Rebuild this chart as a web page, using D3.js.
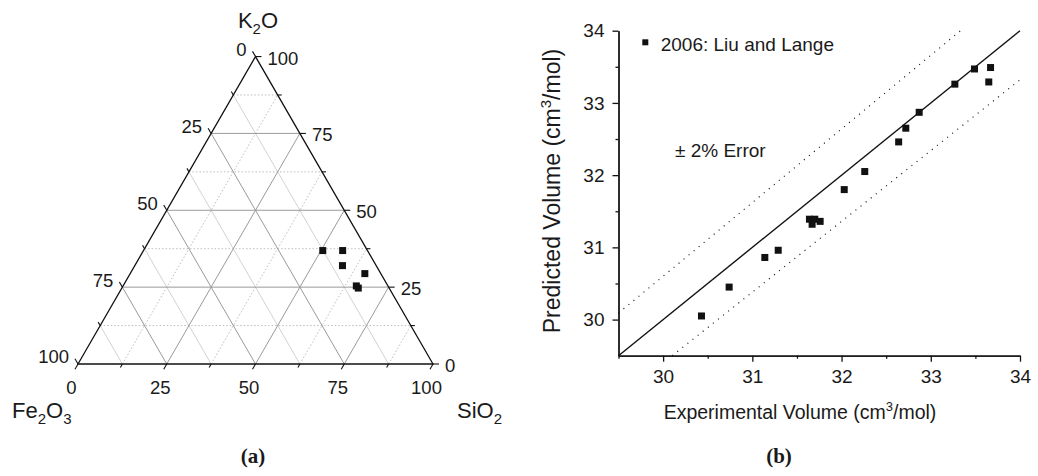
<!DOCTYPE html>
<html>
<head>
<meta charset="utf-8">
<script src="https://cdn.jsdelivr.net/npm/d3@7"></script>
<style>
body { margin: 0; background: #fff; }
svg text { font-family: "Liberation Sans", Arial, Helvetica, sans-serif; fill: #1a1a1a; }
</style>
</head>
<body>
<svg id="chart" width="1038" height="476"></svg>
<script>
// (a) ternary compositions, one entry per sample
var fe2o3 = [12.6, 7.0, 9.5, 4.5, 8.9, 8.7];
var sio2  = [50.5, 56.1, 58.5, 66.1, 65.7, 66.6];
var k2o   = [36.9, 36.9, 32.0, 29.4, 25.4, 24.7];
var ternMajor = [0, 25, 50, 75, 100];
var ternMinor = [12.5, 37.5, 62.5, 87.5];

// (b) experimental vs predicted volume, cm3/mol
var expVol  = [30.43, 30.74, 31.14, 31.29, 31.64, 31.70, 31.67, 31.76, 32.03, 32.26, 32.64, 32.72, 32.87, 33.27, 33.49, 33.67, 33.65];
var predVol = [30.05, 30.45, 30.86, 30.96, 31.39, 31.39, 31.32, 31.36, 31.80, 32.05, 32.46, 32.65, 32.87, 33.26, 33.47, 33.49, 33.29];
var volTicks = [30, 31, 32, 33, 34];
var volMinor = [29.5, 30.5, 31.5, 32.5, 33.5];
var errPct = 2;
var legendLabel = "2006: Liu and Lange";

var svg = d3.select("#chart");

// ---------- ternary ----------
var tA = [78, 364], side = 355, tH = side * Math.sqrt(3) / 2;
var tern = d3.scaleLinear().domain([0, 100]).range([0, 1]);

function tp(fe, si, k) {   // fe is implied by si + k
  var s = tern(si), kk = tern(k);
  return [tA[0] + side * (s + kk / 2), tA[1] - tH * kk];
}

var tg = svg.append("g");
var gridLine = function(p, q, cls) {
  var ln = tg.append("line")
    .attr("x1", p[0]).attr("y1", p[1]).attr("x2", q[0]).attr("y2", q[1])
    .attr("stroke-width", 1);
  if (cls == "major") ln.attr("stroke", "#9a9a9a");
  else if (cls == "minorSolid") ln.attr("stroke", "#d2d2d2");
  else ln.attr("stroke", "#bdbdbd").attr("stroke-dasharray", "1.5,2");
};

ternMinor.concat(ternMajor.slice(1, 4)).forEach(function(v) {
  var major = ternMajor.indexOf(v) != -1;
  gridLine(tp(100 - v, 0, v), tp(0, 100 - v, v), major ? "major" : "dotted");      // constant K2O
  gridLine(tp(v, 100 - v, 0), tp(v, 0, 100 - v), major ? "major" : "minorSolid");  // constant Fe2O3
  gridLine(tp(100 - v, v, 0), tp(0, v, 100 - v), major ? "major" : "dotted");      // constant SiO2
});

var corners = [tp(100, 0, 0), tp(0, 100, 0), tp(0, 0, 100)];
tg.append("path")
  .attr("d", "M" + corners.join("L") + "Z")
  .attr("fill", "none").attr("stroke", "#111").attr("stroke-width", 1.3);

// ticks
var all = ternMajor.concat(ternMinor);
all.forEach(function(v) {
  var len = ternMajor.indexOf(v) != -1 ? 6 : 4;
  var sides = [
    [tp(v, 0, 100 - v), [-0.5, -0.866]],   // left, Fe2O3
    [tp(0, 100 - v, v), [1, 0]],           // right, K2O
    [tp(100 - v, v, 0), [-0.5, 0.866]]     // bottom, SiO2
  ];
  sides.forEach(function(s) {
    tg.append("line")
      .attr("x1", s[0][0]).attr("y1", s[0][1])
      .attr("x2", s[0][0] + s[1][0] * len).attr("y2", s[0][1] + s[1][1] * len)
      .attr("stroke", "#111").attr("stroke-width", 1.1);
  });
});

ternMajor.forEach(function(v) {
  var p = tp(v, 0, 100 - v);
  tg.append("text").attr("x", p[0] - 9).attr("y", p[1] - 7).attr("dy", "0.35em")
    .attr("text-anchor", "end").attr("font-size", 18.5).text(v);
  p = tp(0, 100 - v, v);
  tg.append("text").attr("x", p[0] + 12).attr("y", p[1] + 1.5).attr("dy", "0.35em")
    .attr("font-size", 18.5).text(v);
  p = tp(100 - v, v, 0);
  tg.append("text").attr("x", p[0] - 6.5).attr("y", p[1] + 30)
    .attr("text-anchor", "middle").attr("font-size", 18.5).text(v);
});

function chemLabel(x, y, parts, anchor) {
  var t = svg.append("text").attr("x", x).attr("y", y).attr("font-size", 22)
    .attr("text-anchor", anchor || "start");
  parts.forEach(function(pt) {
    if (pt.sub) t.append("tspan").attr("font-size", 15).attr("dy", 6).text(pt.sub);
    else t.append("tspan").attr("dy", pt.up ? -6 : 0).text(pt.s);
  });
}
chemLabel(258, 28, [{s: "K"}, {sub: "2"}, {s: "O", up: true}], "middle");
chemLabel(12, 418, [{s: "Fe"}, {sub: "2"}, {s: "O", up: true}, {sub: "3"}]);
chemLabel(457, 418, [{s: "SiO"}, {sub: "2"}]);

tg.selectAll(".tpt")
  .data(d3.range(sio2.length))
  .enter().append("rect")
  .attr("class", "tpt")
  .attr("width", 7).attr("height", 7)
  .attr("x", function(i) { return tp(fe2o3[i], sio2[i], k2o[i])[0] - 3.5; })
  .attr("y", function(i) { return tp(fe2o3[i], sio2[i], k2o[i])[1] - 3.5; })
  .attr("fill", "#111");

// ---------- volume comparison ----------
var x = d3.scaleLinear().domain([29.5, 34]).range([618.5, 1020]);
var y = d3.scaleLinear().domain([29.5, 34]).range([355.7, 30.7]);
var vg = svg.append("g");

function styleAxis(g) {
  g.attr("font-family", null).attr("font-size", null);
  g.selectAll("text").attr("font-size", 19).attr("fill", "#1a1a1a");
  g.selectAll("line,path").attr("stroke", "#111").attr("stroke-width", 1.3);
}

vg.append("g").attr("transform", "translate(0," + y.range()[0] + ")")
  .call(d3.axisBottom(x).tickValues(volMinor).tickSize(3).tickSizeOuter(0).tickFormat(""))
  .call(styleAxis);
vg.append("g").attr("transform", "translate(0," + y.range()[0] + ")")
  .call(d3.axisBottom(x).tickValues(volTicks).tickSize(6).tickSizeOuter(0).tickPadding(8).tickFormat(d3.format("d")))
  .call(styleAxis);
vg.append("g").attr("transform", "translate(" + x.range()[0] + ",0)")
  .call(d3.axisLeft(y).tickValues(volMinor.slice(1)).tickSize(3).tickSizeOuter(0).tickFormat(""))
  .call(styleAxis);
vg.append("g").attr("transform", "translate(" + x.range()[0] + ",0)")
  .call(d3.axisLeft(y).tickValues(volTicks).tickSize(6).tickSizeOuter(0).tickPadding(8).tickFormat(d3.format("d")))
  .call(styleAxis);

var lo = x.domain()[0], hi = x.domain()[1];
var f = 1 + errPct / 100, g2 = 1 - errPct / 100;
var refLines = [
  {pts: [[lo, lo], [hi, hi]], dash: null},
  {pts: [[lo, lo * f], [hi / f, hi]], dash: "1,5.5"},
  {pts: [[lo / g2, lo], [hi, hi * g2]], dash: "1,5.5"}
];
var line = d3.line().x(function(d) { return x(d[0]); }).y(function(d) { return y(d[1]); });
refLines.forEach(function(r) {
  vg.append("path").attr("d", line(r.pts))
    .attr("fill", "none").attr("stroke", "#111")
    .attr("stroke-width", r.dash ? 1.2 : 1.4)
    .attr("stroke-dasharray", r.dash);
});

vg.selectAll(".vpt")
  .data(expVol)
  .enter().append("rect")
  .attr("class", "vpt")
  .attr("width", 7).attr("height", 7)
  .attr("x", function(d) { return x(d) - 3.5; })
  .attr("y", function(d, i) { return y(predVol[i]) - 3.5; })
  .attr("fill", "#111");

vg.append("rect").attr("x", 642.3).attr("y", 39.3).attr("width", 6).attr("height", 6).attr("fill", "#111");
vg.append("text").attr("x", 660.7).attr("y", 50.5).attr("font-size", 19).text(legendLabel);
vg.append("text").attr("x", 675).attr("y", 157).attr("font-size", 19).text("\u00b1 " + errPct + "% Error");

var yt = vg.append("text").attr("transform", "translate(560,191) rotate(-90)")
  .attr("text-anchor", "middle").attr("font-size", 23);
yt.append("tspan").text("Predicted Volume (cm");
yt.append("tspan").attr("font-size", 15).attr("dy", -9).text("3");
yt.append("tspan").attr("dy", 9).text("/mol)");

var xt = vg.append("text").attr("x", 800).attr("y", 419)
  .attr("text-anchor", "middle").attr("font-size", 19.5);
xt.append("tspan").text("Experimental Volume (cm");
xt.append("tspan").attr("font-size", 13).attr("dy", -8).text("3");
xt.append("tspan").attr("dy", 8).text("/mol)");

// panel captions
svg.append("text").attr("x", 253).attr("y", 463).attr("text-anchor", "middle")
  .style("font-family", "'Liberation Serif', 'Times New Roman', serif")
  .attr("font-weight", "bold").attr("font-size", 21).text("(a)");
svg.append("text").attr("x", 779).attr("y", 463).attr("text-anchor", "middle")
  .style("font-family", "'Liberation Serif', 'Times New Roman', serif")
  .attr("font-weight", "bold").attr("font-size", 21).text("(b)");
</script>
</body>
</html>
